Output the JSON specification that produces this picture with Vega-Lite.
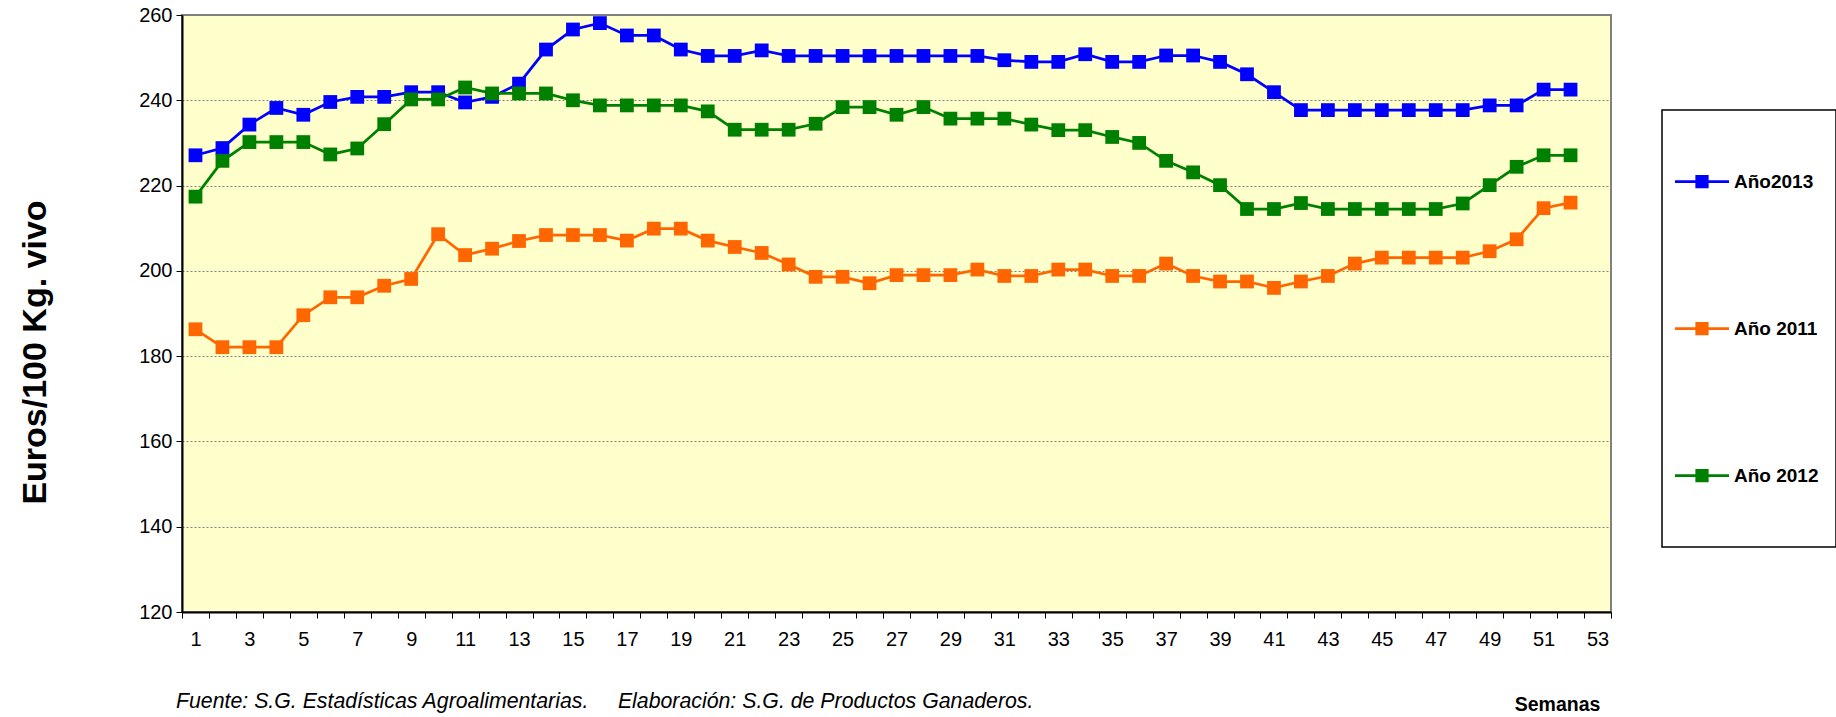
{
  "$schema": "https://vega.github.io/schema/vega-lite/v6.json",
  "width": 1429,
  "height": 597,
  "autosize": {"type": "none"},
  "padding": {"left": 182, "top": 15, "right": 225, "bottom": 105},
  "background": "white",
  "config": {
    "font": "Liberation Sans",
    "view": {"fill": "#FFFFCC", "stroke": "#808080", "strokeWidth": 2}
  },
  "title": {
    "text": "Fuente: S.G. Estadísticas Agroalimentarias.\u00a0\u00a0\u00a0\u00a0\u00a0Elaboración: S.G. de Productos Ganaderos.",
    "orient": "bottom", "anchor": "start", "frame": "group",
    "font": "Liberation Sans", "fontSize": 21.3, "fontStyle": "italic", "fontWeight": "normal",
    "color": "black", "baseline": "middle", "offset": -12, "dx": -6
  },
  "data": {"values": [
    {"serie":"Año2013","semana":1,"precio":227.1},{"serie":"Año2013","semana":2,"precio":228.8},{"serie":"Año2013","semana":3,"precio":234.3},{"serie":"Año2013","semana":4,"precio":238.2},{"serie":"Año2013","semana":5,"precio":236.6},{"serie":"Año2013","semana":6,"precio":239.6},{"serie":"Año2013","semana":7,"precio":240.8},{"serie":"Año2013","semana":8,"precio":240.8},{"serie":"Año2013","semana":9,"precio":241.9},{"serie":"Año2013","semana":10,"precio":241.9},{"serie":"Año2013","semana":11,"precio":239.5},{"serie":"Año2013","semana":12,"precio":240.8},{"serie":"Año2013","semana":13,"precio":243.9},{"serie":"Año2013","semana":14,"precio":251.9},{"serie":"Año2013","semana":15,"precio":256.6},{"serie":"Año2013","semana":16,"precio":258.1},{"serie":"Año2013","semana":17,"precio":255.2},{"serie":"Año2013","semana":18,"precio":255.2},{"serie":"Año2013","semana":19,"precio":251.9},{"serie":"Año2013","semana":20,"precio":250.4},{"serie":"Año2013","semana":21,"precio":250.4},{"serie":"Año2013","semana":22,"precio":251.7},{"serie":"Año2013","semana":23,"precio":250.4},{"serie":"Año2013","semana":24,"precio":250.4},{"serie":"Año2013","semana":25,"precio":250.4},{"serie":"Año2013","semana":26,"precio":250.4},{"serie":"Año2013","semana":27,"precio":250.4},{"serie":"Año2013","semana":28,"precio":250.4},{"serie":"Año2013","semana":29,"precio":250.4},{"serie":"Año2013","semana":30,"precio":250.4},{"serie":"Año2013","semana":31,"precio":249.4},{"serie":"Año2013","semana":32,"precio":249.0},{"serie":"Año2013","semana":33,"precio":249.0},{"serie":"Año2013","semana":34,"precio":250.8},{"serie":"Año2013","semana":35,"precio":249.0},{"serie":"Año2013","semana":36,"precio":249.0},{"serie":"Año2013","semana":37,"precio":250.5},{"serie":"Año2013","semana":38,"precio":250.5},{"serie":"Año2013","semana":39,"precio":249.0},{"serie":"Año2013","semana":40,"precio":246.1},{"serie":"Año2013","semana":41,"precio":241.9},{"serie":"Año2013","semana":42,"precio":237.7},{"serie":"Año2013","semana":43,"precio":237.7},{"serie":"Año2013","semana":44,"precio":237.7},{"serie":"Año2013","semana":45,"precio":237.7},{"serie":"Año2013","semana":46,"precio":237.7},{"serie":"Año2013","semana":47,"precio":237.7},{"serie":"Año2013","semana":48,"precio":237.7},{"serie":"Año2013","semana":49,"precio":238.8},{"serie":"Año2013","semana":50,"precio":238.8},{"serie":"Año2013","semana":51,"precio":242.5},{"serie":"Año2013","semana":52,"precio":242.5},
    {"serie":"Año 2011","semana":1,"precio":186.3},{"serie":"Año 2011","semana":2,"precio":182.1},{"serie":"Año 2011","semana":3,"precio":182.1},{"serie":"Año 2011","semana":4,"precio":182.1},{"serie":"Año 2011","semana":5,"precio":189.6},{"serie":"Año 2011","semana":6,"precio":193.8},{"serie":"Año 2011","semana":7,"precio":193.8},{"serie":"Año 2011","semana":8,"precio":196.5},{"serie":"Año 2011","semana":9,"precio":198.1},{"serie":"Año 2011","semana":10,"precio":208.6},{"serie":"Año 2011","semana":11,"precio":203.7},{"serie":"Año 2011","semana":12,"precio":205.2},{"serie":"Año 2011","semana":13,"precio":207.0},{"serie":"Año 2011","semana":14,"precio":208.4},{"serie":"Año 2011","semana":15,"precio":208.4},{"serie":"Año 2011","semana":16,"precio":208.4},{"serie":"Año 2011","semana":17,"precio":207.1},{"serie":"Año 2011","semana":18,"precio":209.9},{"serie":"Año 2011","semana":19,"precio":209.9},{"serie":"Año 2011","semana":20,"precio":207.1},{"serie":"Año 2011","semana":21,"precio":205.6},{"serie":"Año 2011","semana":22,"precio":204.2},{"serie":"Año 2011","semana":23,"precio":201.5},{"serie":"Año 2011","semana":24,"precio":198.6},{"serie":"Año 2011","semana":25,"precio":198.6},{"serie":"Año 2011","semana":26,"precio":197.1},{"serie":"Año 2011","semana":27,"precio":199.0},{"serie":"Año 2011","semana":28,"precio":199.0},{"serie":"Año 2011","semana":29,"precio":199.0},{"serie":"Año 2011","semana":30,"precio":200.3},{"serie":"Año 2011","semana":31,"precio":198.8},{"serie":"Año 2011","semana":32,"precio":198.8},{"serie":"Año 2011","semana":33,"precio":200.3},{"serie":"Año 2011","semana":34,"precio":200.3},{"serie":"Año 2011","semana":35,"precio":198.8},{"serie":"Año 2011","semana":36,"precio":198.8},{"serie":"Año 2011","semana":37,"precio":201.7},{"serie":"Año 2011","semana":38,"precio":198.8},{"serie":"Año 2011","semana":39,"precio":197.5},{"serie":"Año 2011","semana":40,"precio":197.5},{"serie":"Año 2011","semana":41,"precio":196.0},{"serie":"Año 2011","semana":42,"precio":197.5},{"serie":"Año 2011","semana":43,"precio":198.8},{"serie":"Año 2011","semana":44,"precio":201.7},{"serie":"Año 2011","semana":45,"precio":203.1},{"serie":"Año 2011","semana":46,"precio":203.1},{"serie":"Año 2011","semana":47,"precio":203.1},{"serie":"Año 2011","semana":48,"precio":203.1},{"serie":"Año 2011","semana":49,"precio":204.6},{"serie":"Año 2011","semana":50,"precio":207.4},{"serie":"Año 2011","semana":51,"precio":214.7},{"serie":"Año 2011","semana":52,"precio":216.0},
    {"serie":"Año 2012","semana":1,"precio":217.4},{"serie":"Año 2012","semana":2,"precio":225.8},{"serie":"Año 2012","semana":3,"precio":230.2},{"serie":"Año 2012","semana":4,"precio":230.2},{"serie":"Año 2012","semana":5,"precio":230.2},{"serie":"Año 2012","semana":6,"precio":227.3},{"serie":"Año 2012","semana":7,"precio":228.7},{"serie":"Año 2012","semana":8,"precio":234.4},{"serie":"Año 2012","semana":9,"precio":240.2},{"serie":"Año 2012","semana":10,"precio":240.2},{"serie":"Año 2012","semana":11,"precio":243.0},{"serie":"Año 2012","semana":12,"precio":241.6},{"serie":"Año 2012","semana":13,"precio":241.6},{"serie":"Año 2012","semana":14,"precio":241.6},{"serie":"Año 2012","semana":15,"precio":240.0},{"serie":"Año 2012","semana":16,"precio":238.8},{"serie":"Año 2012","semana":17,"precio":238.8},{"serie":"Año 2012","semana":18,"precio":238.8},{"serie":"Año 2012","semana":19,"precio":238.8},{"serie":"Año 2012","semana":20,"precio":237.4},{"serie":"Año 2012","semana":21,"precio":233.1},{"serie":"Año 2012","semana":22,"precio":233.1},{"serie":"Año 2012","semana":23,"precio":233.1},{"serie":"Año 2012","semana":24,"precio":234.5},{"serie":"Año 2012","semana":25,"precio":238.4},{"serie":"Año 2012","semana":26,"precio":238.4},{"serie":"Año 2012","semana":27,"precio":236.6},{"serie":"Año 2012","semana":28,"precio":238.4},{"serie":"Año 2012","semana":29,"precio":235.7},{"serie":"Año 2012","semana":30,"precio":235.7},{"serie":"Año 2012","semana":31,"precio":235.7},{"serie":"Año 2012","semana":32,"precio":234.3},{"serie":"Año 2012","semana":33,"precio":233.0},{"serie":"Año 2012","semana":34,"precio":233.0},{"serie":"Año 2012","semana":35,"precio":231.4},{"serie":"Año 2012","semana":36,"precio":230.0},{"serie":"Año 2012","semana":37,"precio":225.8},{"serie":"Año 2012","semana":38,"precio":223.1},{"serie":"Año 2012","semana":39,"precio":220.1},{"serie":"Año 2012","semana":40,"precio":214.5},{"serie":"Año 2012","semana":41,"precio":214.5},{"serie":"Año 2012","semana":42,"precio":215.9},{"serie":"Año 2012","semana":43,"precio":214.5},{"serie":"Año 2012","semana":44,"precio":214.5},{"serie":"Año 2012","semana":45,"precio":214.5},{"serie":"Año 2012","semana":46,"precio":214.5},{"serie":"Año 2012","semana":47,"precio":214.5},{"serie":"Año 2012","semana":48,"precio":215.8},{"serie":"Año 2012","semana":49,"precio":220.1},{"serie":"Año 2012","semana":50,"precio":224.4},{"serie":"Año 2012","semana":51,"precio":227.1},{"serie":"Año 2012","semana":52,"precio":227.1}
  ]},
  "encoding": {
    "x": {
      "field": "semana", "type": "quantitative",
      "scale": {"domain": [0.5, 53.5], "nice": false, "zero": false},
      "axis": {
        "values": [0.5,1.5,2.5,3.5,4.5,5.5,6.5,7.5,8.5,9.5,10.5,11.5,12.5,13.5,14.5,15.5,16.5,17.5,18.5,19.5,20.5,21.5,22.5,23.5,24.5,25.5,26.5,27.5,28.5,29.5,30.5,31.5,32.5,33.5,34.5,35.5,36.5,37.5,38.5,39.5,40.5,41.5,42.5,43.5,44.5,45.5,46.5,47.5,48.5,49.5,50.5,51.5,52.5,53.5],
        "labelExpr": "(datum.value + 0.5) % 2 == 1 ? format(datum.value + 0.5, 'd') : ''",
        "labelOffset": 13.5,
        "labelFontSize": 20, "labelColor": "black", "labelPadding": 11,
        "labelOverlap": false, "labelBound": false, "labelFlush": false,
        "tickSize": 6, "tickColor": "black", "tickWidth": 1,
        "domainColor": "black", "domainWidth": 2,
        "grid": false,
        "title": "Semanas", "titleFontSize": 19.5, "titleFontWeight": "bold", "titleColor": "black",
        "titleX": 1375, "titleY": 92, "titleAlign": "center", "titleBaseline": "middle"
      }
    },
    "y": {
      "field": "precio", "type": "quantitative",
      "scale": {"domain": [120, 260], "nice": false, "zero": false},
      "axis": {
        "values": [120,140,160,180,200,220,240,260],
        "labelFontSize": 20, "labelColor": "black", "labelPadding": 4,
        "labelOverlap": false, "labelFlush": false,
        "tickSize": 6, "tickColor": "black", "tickWidth": 1,
        "domainColor": "black", "domainWidth": 2,
        "grid": true, "gridColor": "#808080", "gridDash": [2, 2], "gridWidth": 1,
        "gridOpacity": {"condition": {"test": "datum.value == 120 || datum.value == 260", "value": 0}, "value": 1},
        "title": "Euros/100 Kg. vivo", "titleFontSize": 34, "titleFontWeight": "bold", "titleColor": "black",
        "titleX": -147, "titleY": 337, "titleAngle": -90, "titleAlign": "center", "titleBaseline": "middle"
      }
    },
    "color": {
      "field": "serie", "type": "nominal",
      "scale": {"domain": ["Año2013", "Año 2011", "Año 2012"], "range": ["#0000FF", "#FF6600", "#008000"]},
      "legend": {
        "title": null, "orient": "none", "legendX": 1480, "legendY": 95, "direction": "vertical",
        "padding": 17.5, "strokeColor": "black", "fillColor": "white",
        "rowPadding": 39,
        "symbolType": "M-1.114,0H-0.086M-0.7,-0.1H-0.5V0.1H-0.7ZM0,0.905",
        "symbolSize": 11025, "symbolStrokeWidth": 2.75,
        "labelFontSize": 19, "labelFontWeight": "bold", "labelColor": "black", "labelOffset": -53.5, "labelLimit": 300,
        "encode": {
          "symbols": {"update": {
            "fill": {"scale": "color", "field": "value"},
            "stroke": {"scale": "color", "field": "value"},
            "opacity": {"value": 1}, "fillOpacity": {"value": 1}, "strokeOpacity": {"value": 1}
          }},
          "legend": {"update": {"strokeWidth": {"value": 1.5}}}
        }
      }
    }
  },
  "layer": [
    {"mark": {"type": "line", "strokeWidth": 2.75}},
    {"mark": {"type": "point", "shape": "square", "filled": true, "size": 190, "opacity": 1}}
  ]
}
